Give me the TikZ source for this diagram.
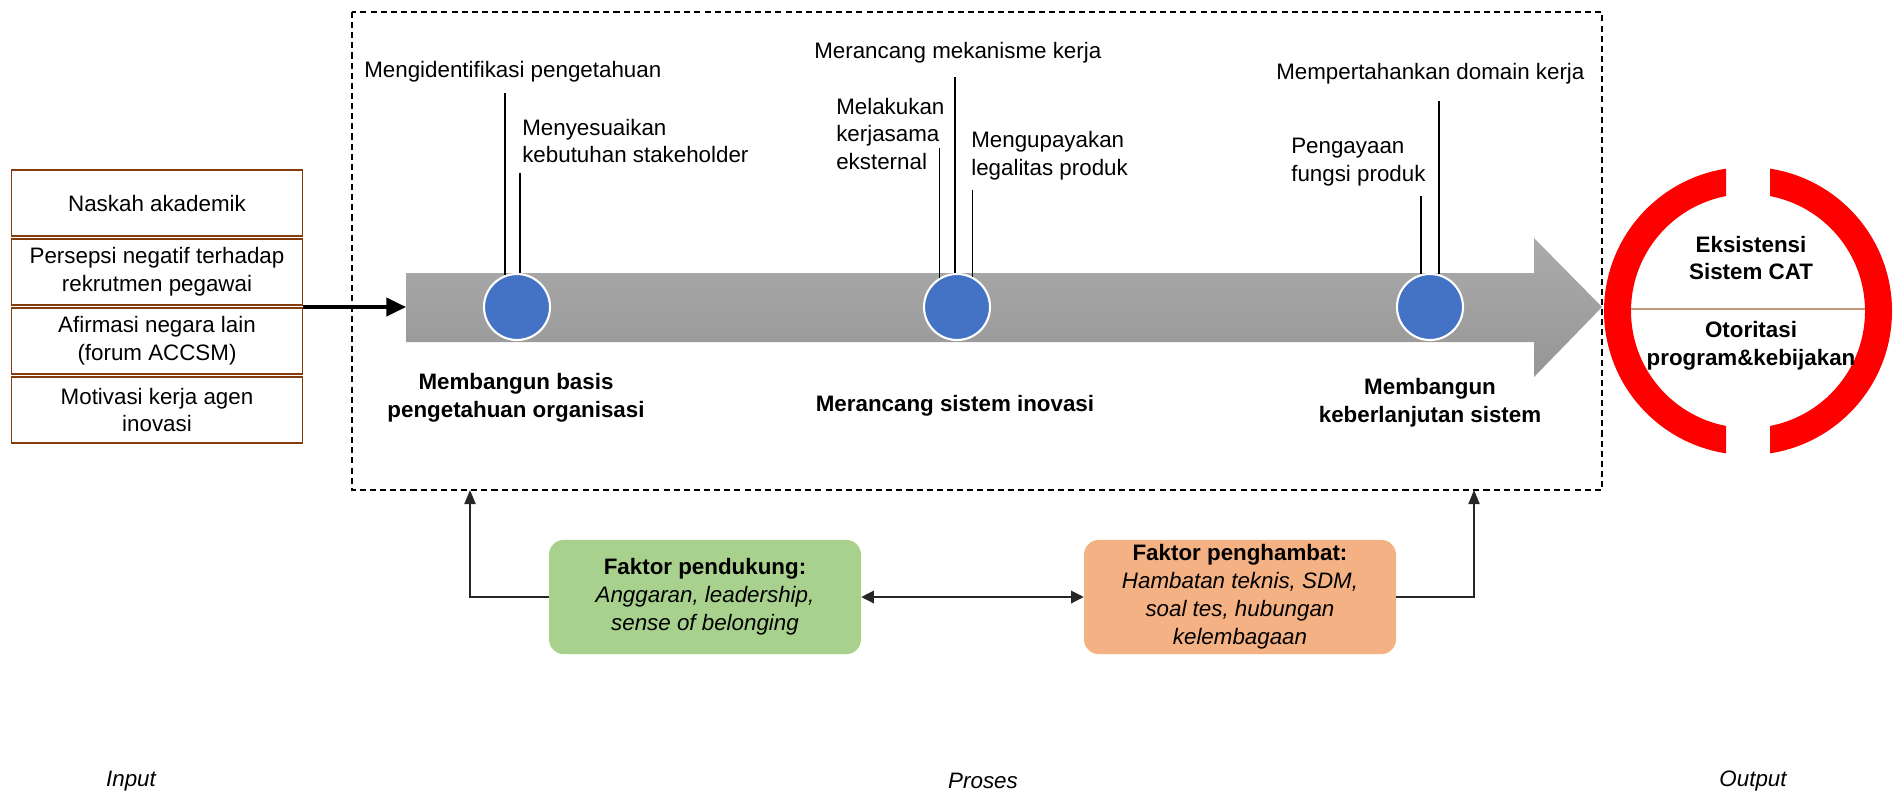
\documentclass[tikz,border=0pt]{standalone}
\usepackage{fontspec}
\setmainfont{Liberation Sans}
\usepackage{xcolor}
\usepackage{tikz}
\usetikzlibrary{arrows.meta}
\definecolor{inbrown}{HTML}{843C0C}
\definecolor{dotblue}{HTML}{4472C4}
\definecolor{bartop}{HTML}{ABABAB}
\definecolor{barbot}{HTML}{969696}
\definecolor{ringred}{HTML}{FF0000}
\definecolor{divline}{HTML}{C09A7A}
\definecolor{suppgreen}{HTML}{A9D18E}
\definecolor{barrorange}{HTML}{F4B183}
\newcommand{\picfont}{\fontsize{15.9}{19.9}\selectfont}
\tikzset{
  inbox/.style={draw=inbrown, line width=1.2pt, minimum width=72.75mm, minimum height=16.4mm, align=center, inner sep=2pt},
  frame/.style={draw=black, line width=1.1pt, dash pattern=on 4.3pt off 2.9pt},
  feed/.style={draw=black, line width=2.4pt, -{Triangle[length=14pt,width=13pt]}},
  dot/.style={circle, fill=dotblue, draw=white, line width=1.5pt, minimum size=16.5mm, inner sep=0pt},
  tick/.style={draw=black, line width=1.3pt},
  lab/.style={anchor=west, align=left, inner sep=0pt},
  stage/.style={align=center, inner sep=0pt, font=\picfont\bfseries},
  divider/.style={draw=divline, line width=1pt},
  factor/.style={rounded corners=3.75mm, align=center, minimum width=78mm, minimum height=28.6mm, inner sep=2pt},
  fb/.style={draw=black!85, line width=0.9pt, -{Triangle[length=10pt,width=8pt]}},
  fbboth/.style={draw=black!85, line width=0.9pt, {Triangle[length=9pt,width=9pt]}-{Triangle[length=9pt,width=9pt]}},
  tag/.style={inner sep=0pt, font=\picfont\itshape},
}

\begin{document}
\begin{tikzpicture}[x=0.25mm, y=-0.25mm, font=\picfont]
  \useasboundingbox (0,0) rectangle (1896,794);

  % input
  \node[inbox] (in1) at (157,203) {Naskah akademik};
  \node[inbox] (in2) at (157,272) {Persepsi negatif terhadap\\rekrutmen pegawai};
  \node[inbox] (in3) at (157,341) {Afirmasi negara lain\\(forum ACCSM)};
  \node[inbox] (in4) at (157,410) {Motivasi kerja agen\\inovasi};

  % process
  \draw[frame] (352,12) rectangle (1602,490);
  \shade[top color=bartop, bottom color=barbot] (406,273) -- (1534,273) -- (1534,238) -- (1602,307)
    -- (1534,377) -- (1534,342) -- (406,342) -- cycle;
  \coordinate (bar) at (406,307);
  \draw[feed] (in2.south east |- bar) -- (bar);

  \node[dot] (c1) at (517,307) {};
  \node[dot] (c2) at (957,307) {};
  \node[dot] (c3) at (1430,307) {};

  \node[lab] (k1) at (364,72) {Mengidentifikasi pengetahuan};
  \node[lab] (k2) at (522,141) {Menyesuaikan\\kebutuhan stakeholder};
  \node[lab] (k3) at (814,53) {Merancang mekanisme kerja};
  \node[lab] (k4) at (836,134) {Melakukan\\kerjasama\\eksternal};
  \node[lab] (k5) at (971,156) {Mengupayakan\\legalitas produk};
  \node[lab] (k6) at (1276,74) {Mempertahankan domain kerja};
  \node[lab] (k7) at (1291,162) {Pengayaan\\fungsi produk};

  \draw[tick] (c1.111) -- ++(0,-182);
  \draw[tick] (c1.85) -- ++(0,-100);
  \draw[tick] (c2.121) -- ++(0,-130);
  \draw[tick] (c2.93) -- ++(0,-196);
  \draw[tick] (c2.63) -- ++(0,-87);
  \draw[tick] (c3.106) -- ++(0,-78);
  \draw[tick] (c3.74) -- ++(0,-173);

  \node[stage] (s1) at (516,398) {Membangun basis\\pengetahuan organisasi};
  \node[stage] (s2) at (955,406) {Merancang sistem inovasi};
  \node[stage] (s3) at (1430,403) {Membangun\\keberlanjutan sistem};

  % output
  \begin{scope}
    \clip (1590,150) rectangle (1726,470) (1770,150) rectangle (1900,470);
    \fill[ringred, even odd rule] (1748,311) circle (144) (1748,311) circle (117);
  \end{scope}
  \node[circle, minimum size=58.5mm, inner sep=0pt] (ring) at (1748,309) {};
  \draw[divider] (ring.west) -- (ring.east);
  \node[stage] (o1) at (1751,258) {Eksistensi\\Sistem CAT};
  \node[stage] (o2) at (1751,346) {Otoritasi\\program\&kebijakan};

  % factors
  \node[factor, fill=suppgreen] (g) at (705,597)
    {\textbf{Faktor pendukung:}\\\textit{Anggaran, leadership,}\\\textit{sense of belonging}};
  \node[factor, fill=barrorange] (h) at (1240,597)
    {\textbf{Faktor penghambat:}\\\textit{Hambatan teknis, SDM,}\\\textit{soal tes, hubungan}\\\textit{kelembagaan}};
  \coordinate (up1) at (470,490);
  \coordinate (up2) at (1474,490);
  \draw[fb] (g.west) -| (up1);
  \draw[fb] (h.east) -| (up2);
  \draw[fbboth] (g.east) -- (h.west);

  \node[tag] (tin) at (131,781) {Input};
  \node[tag] (tpr) at (983,781) {Proses};
  \node[tag] (tout) at (1753,781) {Output};
\end{tikzpicture}
\end{document}
